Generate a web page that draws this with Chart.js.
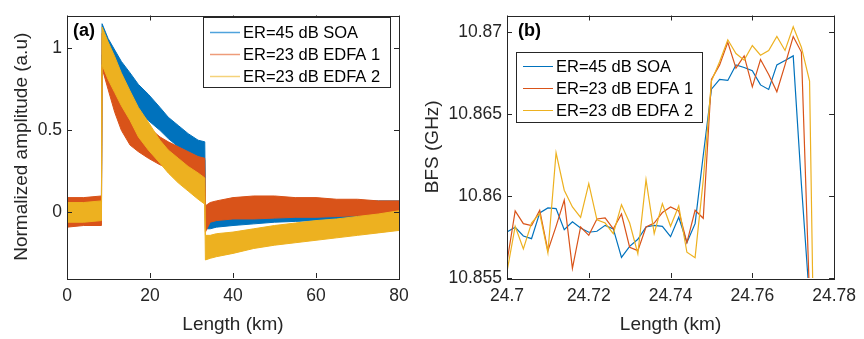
<!DOCTYPE html>
<html>
<head>
<meta charset="utf-8">
<script src="https://cdn.jsdelivr.net/npm/chart.js@4.4.1/dist/chart.umd.min.js"></script>
<style>
  html, body { margin: 0; padding: 0; background: #fff; }
  #wrap { position: relative; width: 864px; height: 339px; overflow: hidden; }
  #ampChart { position: absolute; left: 0; top: 0; }
  #bfsChart { position: absolute; left: 410px; top: 0; }
</style>
</head>
<body>
<div id="wrap">
  <canvas id="ampChart" width="432" height="339"></canvas>
  <canvas id="bfsChart" width="454" height="339"></canvas>
</div>
<script>
// Legend names (same for both panels)
const seriesNames = ["ER=45 dB SOA", "ER=23 dB EDFA 1", "ER=23 dB EDFA 2"];

// (a) noisy traces, read as upper / lower envelope of the noise band
const lengthKm = [0, 4, 8.3, 8.45, 9.9, 11.5, 13.1, 15.2, 17.2, 19.6, 22.4, 24.4, 26.8, 29.2,
  31.6, 33.2, 33.35, 34.5, 36, 40, 45, 50, 55, 60, 65, 70, 75, 80];
const soaUpper = [0.07, 0.07, 0.09, 1.15, 1.06, 0.99, 0.92, 0.85, 0.78, 0.72, 0.64, 0.58, 0.53, 0.48,
  0.44, 0.43, 0.03, 0.03, 0.03, 0.03, 0.04, 0.05, 0.06, 0.06, 0.06, 0.07, 0.07, 0.07];
const soaLower = [-0.04, -0.04, -0.03, 0.96, 0.89, 0.82, 0.75, 0.68, 0.62, 0.56, 0.5, 0.45, 0.4, 0.37,
  0.34, 0.32, -0.1, -0.1, -0.09, -0.08, -0.07, -0.06, -0.055, -0.05, -0.04, -0.035, -0.03, -0.02];
const edfa1Upper = [0.09, 0.09, 0.1, 1.09, 0.97, 0.86, 0.77, 0.67, 0.59, 0.52, 0.46, 0.43, 0.4, 0.37,
  0.34, 0.33, 0.04, 0.06, 0.07, 0.09, 0.1, 0.1, 0.09, 0.09, 0.08, 0.08, 0.07, 0.07];
const edfa1Lower = [-0.09, -0.08, -0.08, 0.88, 0.75, 0.61, 0.5, 0.41, 0.37, 0.33, 0.29, 0.27, 0.24, 0.21,
  0.18, 0.16, -0.12, -0.06, -0.05, -0.04, -0.04, -0.035, -0.03, -0.03, -0.025, -0.02, -0.015, -0.01];
const edfa2Upper = [0.06, 0.06, 0.07, 1.13, 1.04, 0.95, 0.85, 0.74, 0.64, 0.55, 0.44, 0.38, 0.33, 0.28,
  0.24, 0.21, -0.14, -0.14, -0.13, -0.12, -0.1, -0.08, -0.065, -0.05, -0.04, -0.025, -0.01, 0.01];
const edfa2Lower = [-0.06, -0.06, -0.05, 0.9, 0.81, 0.73, 0.65, 0.56, 0.46, 0.38, 0.3, 0.24, 0.18, 0.13,
  0.08, 0.05, -0.29, -0.28, -0.27, -0.25, -0.22, -0.2, -0.185, -0.17, -0.155, -0.14, -0.125, -0.11];

const ampXTicks = [0, 20, 40, 60, 80];
const ampYTicks = [0, 0.5, 1];

// (b) BFS profile around the hot spot
const bfsLength = [24.700, 24.702, 24.704, 24.706, 24.708, 24.710, 24.712, 24.714, 24.716, 24.718,
  24.720, 24.722, 24.724, 24.726, 24.728, 24.730, 24.732, 24.734, 24.736, 24.738,
  24.740, 24.742, 24.744, 24.746, 24.748, 24.750, 24.752, 24.754, 24.756, 24.758,
  24.760, 24.762, 24.764, 24.766, 24.768, 24.770, 24.772, 24.774, 24.776];
const bfsSoa = [10.85781, 10.85809, 10.85756, 10.8574, 10.85897, 10.85927, 10.85923, 10.85795, 10.85842, 10.85805,
  10.85779, 10.85785, 10.85821, 10.85799, 10.85626, 10.85693, 10.85736, 10.85811, 10.85821, 10.85815,
  10.85752, 10.8587, 10.85716, 10.85831, 10.86248, 10.86651, 10.8671, 10.86704, 10.86799, 10.86783,
  10.86763, 10.86677, 10.86649, 10.86799, 10.86826, 10.86854, 10.86071, 10.85362];
const bfsEdfa1 = [10.85598, 10.85909, 10.85831, 10.85819, 10.85913, 10.85667, 10.85815, 10.85975, 10.85559, 10.85811,
  10.8576, 10.8586, 10.85866, 10.85799, 10.8589, 10.85687, 10.85667, 10.85811, 10.85835, 10.85899,
  10.85933, 10.85909, 10.85716, 10.85913, 10.85864, 10.8671, 10.86799, 10.86936, 10.86779, 10.86854,
  10.86665, 10.86832, 10.8674, 10.86635, 10.86799, 10.86972, 10.86877, 10.85372];
const bfsEdfa2 = [10.85539, 10.85815, 10.85677, 10.85835, 10.85894, 10.85653, 10.86263, 10.86035, 10.85933, 10.8587,
  10.86075, 10.85854, 10.85835, 10.8577, 10.85947, 10.85835, 10.85648, 10.861, 10.8577, 10.85953,
  10.85815, 10.85939, 10.85657, 10.85624, 10.86098, 10.867, 10.86818, 10.86952, 10.86868, 10.86828,
  10.86917, 10.86858, 10.86887, 10.86972, 10.86887, 10.87031, 10.86907, 10.867, 10.835];

const bfsXTicks = [24.7, 24.72, 24.74, 24.76, 24.78];
const bfsYTicks = [10.855, 10.86, 10.865, 10.87];

// MATLAB default colours
const colors = ["#0072BD", "#D95319", "#EDB120"];
const legendColorsA = ["#4fa3dc", "#ee9c7a", "#f4d27a"];

const FONT = '"Liberation Sans", Arial, sans-serif';
const AXIS = "#262626";

function pts(xs, ys) {
  return ys.map((v, i) => ({ x: xs[i], y: v }));
}

function fixTicks(values) {
  return function (scale) {
    scale.ticks = values.map((v) => ({ value: v }));
  };
}

function drawLegend(ctx, box, items) {
  ctx.save();
  ctx.fillStyle = "#fff";
  ctx.fillRect(box.x, box.y, box.w, box.h);
  ctx.strokeStyle = AXIS;
  ctx.lineWidth = 1;
  ctx.strokeRect(box.x + 0.5, box.y + 0.5, box.w, box.h);
  ctx.font = "16.5px " + FONT;
  ctx.textAlign = "left";
  ctx.textBaseline = "middle";
  items.forEach((it, i) => {
    const cy = Math.round(box.y + box.first + i * box.step) + 0.5;
    ctx.strokeStyle = it.color;
    ctx.lineWidth = box.lineWidth;
    ctx.beginPath();
    ctx.moveTo(box.x + 7, cy);
    ctx.lineTo(box.x + 37, cy);
    ctx.stroke();
    ctx.fillStyle = "#000";
    ctx.fillText(it.label, box.x + 40, cy + 1);
  });
  ctx.restore();
}

// box, inward ticks, panel letter and legend
const framePlugin = {
  id: "frame",
  afterDraw(chart, args, opts) {
    const { ctx, chartArea: a, scales } = chart;
    const x = scales.x, y = scales.y;
    const len = 5;
    ctx.save();
    ctx.strokeStyle = AXIS;
    ctx.lineWidth = 1;
    ctx.beginPath();
    x.ticks.forEach((t) => {
      const px = Math.round(x.getPixelForValue(t.value)) + 0.5;
      ctx.moveTo(px, a.bottom);
      ctx.lineTo(px, a.bottom - len);
      ctx.moveTo(px, a.top);
      ctx.lineTo(px, a.top + len);
    });
    y.ticks.forEach((t) => {
      const py = Math.round(y.getPixelForValue(t.value)) + 0.5;
      ctx.moveTo(a.left, py);
      ctx.lineTo(a.left + len, py);
      ctx.moveTo(a.right, py);
      ctx.lineTo(a.right - len, py);
    });
    ctx.stroke();
    ctx.strokeRect(Math.round(a.left) + 0.5, Math.round(a.top) + 0.5,
      Math.round(a.right - a.left), Math.round(a.bottom - a.top));

    ctx.fillStyle = "#000";
    ctx.font = "bold 18px " + FONT;
    ctx.textAlign = "left";
    ctx.textBaseline = "middle";
    ctx.fillText(opts.letter, a.left + opts.letterDx, a.top + opts.letterDy);
    ctx.restore();

    drawLegend(ctx, opts.legendBox, opts.legendItems);
  },
};

function scaleOpts(min, max, tickValues, title, fmt, isX, fitSize, titlePad) {
  return {
    type: "linear",
    min: min,
    max: max,
    afterBuildTicks: fixTicks(tickValues),
    afterFit: function (s) {
      if (isX) s.height = fitSize; else s.width = fitSize;
    },
    grid: { display: false, drawTicks: false },
    border: { display: false },
    ticks: {
      color: AXIS,
      font: { family: FONT, size: 17.5 },
      padding: isX ? 8 : 5,
      maxRotation: 0,
      autoSkip: false,
      callback: fmt,
    },
    title: {
      display: true,
      text: title,
      color: AXIS,
      font: { family: FONT, size: 19 },
      padding: titlePad,
    },
  };
}

document.addEventListener("DOMContentLoaded", function () {
  Chart.defaults.animation = false;

  // 📈 (a) Normalized amplitude vs length
  const bands = [
    [edfa2Upper, edfa2Lower, colors[2]],
    [edfa1Upper, edfa1Lower, colors[1]],
    [soaUpper, soaLower, colors[0]],
  ];
  const ampSets = [];
  bands.forEach(([up, lo, c]) => {
    ampSets.push({ data: pts(lengthKm, up), borderColor: c, backgroundColor: c, borderWidth: 1, pointRadius: 0, fill: "+1", tension: 0 });
    ampSets.push({ data: pts(lengthKm, lo), borderColor: c, backgroundColor: c, borderWidth: 1, pointRadius: 0, fill: false, tension: 0 });
  });

  new Chart(document.getElementById("ampChart"), {
    type: "line",
    data: { datasets: ampSets },
    options: {
      responsive: false,
      devicePixelRatio: 1,
      layout: { padding: { left: 0, top: 6, right: 33, bottom: 0 } },
      scales: {
        x: scaleOpts(0, 80, ampXTicks, "Length (km)", (v) => String(v), true, 61, { top: 0, bottom: 3 }),
        y: scaleOpts(-0.4, 1.2, ampYTicks, "Normalized amplitude (a.u)", (v) => String(v), false, 67, { top: 10, bottom: 0 }),
      },
      plugins: {
        legend: { display: false },
        tooltip: { enabled: false },
        frame: {
          letter: "(a)",
          letterDx: 6,
          letterDy: 16,
          legendBox: { x: 203, y: 17, w: 187, h: 70, first: 15, step: 22.2, lineWidth: 1.5 },
          legendItems: seriesNames.map((n, i) => ({ label: n, color: legendColorsA[i] })),
        },
      },
    },
    plugins: [framePlugin],
  });

  // 📈 (b) BFS vs length
  const lines = [
    [bfsEdfa2, colors[2]],
    [bfsEdfa1, colors[1]],
    [bfsSoa, colors[0]],
  ];
  new Chart(document.getElementById("bfsChart"), {
    type: "line",
    data: {
      datasets: lines.map(([ys, c]) => ({
        data: pts(bfsLength, ys),
        borderColor: c,
        borderWidth: 1.2,
        pointRadius: 0,
        fill: false,
        tension: 0,
      })),
    },
    options: {
      responsive: false,
      devicePixelRatio: 1,
      layout: { padding: { left: 0, top: 6, right: 26, bottom: 0 } },
      scales: {
        x: scaleOpts(24.7, 24.78, bfsXTicks, "Length (km)", (v) => String(parseFloat(v.toFixed(2))), true, 61, { top: 0, bottom: 3 }),
        y: scaleOpts(10.855, 10.871, bfsYTicks, "BFS (GHz)", (v) => String(parseFloat(v.toFixed(3))), false, 97, { top: 11, bottom: 0 }),
      },
      plugins: {
        legend: { display: false },
        tooltip: { enabled: false },
        frame: {
          letter: "(b)",
          letterDx: 11,
          letterDy: 16,
          legendBox: { x: 106, y: 52, w: 186, h: 70, first: 14, step: 22, lineWidth: 1 },
          legendItems: seriesNames.map((n, i) => ({ label: n, color: colors[i] })),
        },
      },
    },
    plugins: [framePlugin],
  });
});
</script>
</body>
</html>
